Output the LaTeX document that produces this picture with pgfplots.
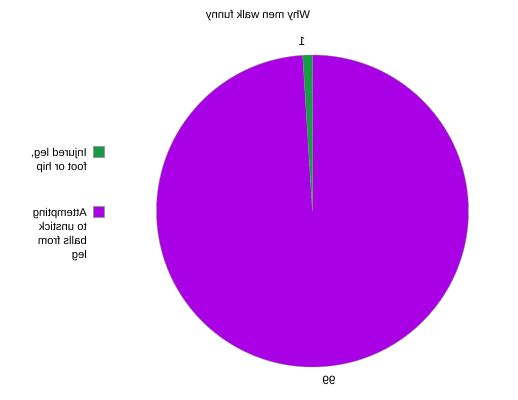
\documentclass[border=0pt]{standalone}
\usepackage{fontspec}
\setmainfont{Liberation Sans}
\usepackage{pgfplots}
\pgfplotsset{compat=1.18}
\definecolor{slicegreen}{RGB}{22,156,70}
\definecolor{slicepurple}{RGB}{170,0,230}

% the reference is drawn mirrored left to right, so the layout below is too
\newcommand{\shareInjured}{1}
\newcommand{\shareBalls}{99}

\begin{document}
\begin{tikzpicture}
\pgfmathsetmacro{\total}{\shareInjured+\shareBalls}
\pgfmathsetmacro{\angA}{90+\shareInjured/\total*360}
\pgfmathsetmacro{\angB}{\angA+\shareBalls/\total*360}
\begin{axis}[
    width=518bp, height=400bp,
    scale only axis,
    xmin=0, xmax=518, ymin=0, ymax=400,
    hide axis,
    clip=false,
]
\path (axis cs:0,0) rectangle (axis cs:518,400);
% slices
\filldraw[fill=slicepurple, draw=black!45, line width=0.4bp]
    (axis cs:312.5,189) -- ++(\angA:156bp) arc[start angle=\angA, end angle=\angB, radius=156bp] -- cycle;
\filldraw[fill=slicegreen, draw=black!45, line width=0.4bp]
    (axis cs:312.5,189) -- ++(90:156bp) arc[start angle=90, end angle=\angA, radius=156bp] -- cycle;
% value labels
\node[xscale=-1, font=\fontsize{12bp}{14bp}\selectfont] at (axis cs:302,359) {\shareInjured};
\node[xscale=-1, font=\fontsize{12bp}{14bp}\selectfont] at (axis cs:329,20) {\shareBalls};
% title
\node[xscale=-1, font=\fontsize{11.3bp}{14bp}\selectfont] at (axis cs:258,384) {Why men walk funny};
% legend
\filldraw[fill=slicegreen, draw=black!40, line width=0.3bp]
    (axis cs:93,242.5) rectangle (axis cs:104,253.5);
\filldraw[fill=slicepurple, draw=black!40, line width=0.3bp]
    (axis cs:93,182.5) rectangle (axis cs:104,193.5);
\node[xscale=-1, anchor=north west, inner sep=0pt, align=left,
      font=\fontsize{11.3bp}{14.2bp}\selectfont] at (axis cs:87,252)
    {Injured leg,\\foot or hip};
\node[xscale=-1, anchor=north west, inner sep=0pt, align=left,
      font=\fontsize{11.3bp}{14.2bp}\selectfont] at (axis cs:87,192)
    {Attempting\\to unstick\\balls from\\leg};
\end{axis}
\end{tikzpicture}
\end{document}
